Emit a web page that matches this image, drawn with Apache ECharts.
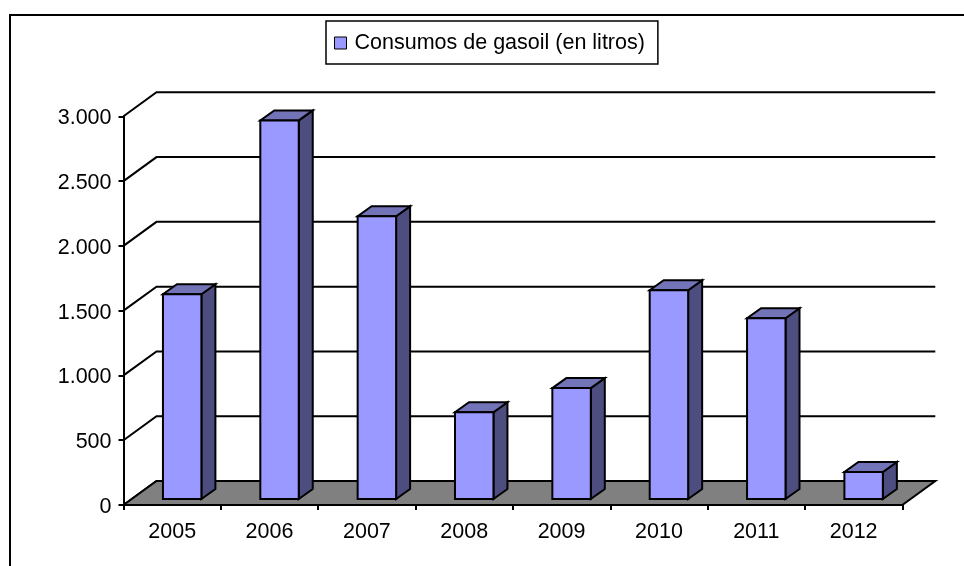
<!DOCTYPE html>
<html>
<head>
<meta charset="utf-8">
<style>
  html, body { margin: 0; padding: 0; background: #fff; }
  #chart { width: 964px; height: 566px; }
</style>
<script src="https://cdn.jsdelivr.net/npm/echarts@6/dist/echarts.min.js"></script>
</head>
<body>
<div id="chart"></div>
<script>
const seriesName = "Consumos de gasoil (en litros)";
const categories = ["2005", "2006", "2007", "2008", "2009", "2010", "2011", "2012"];
const gasoilValues = [1580, 2922, 2182, 670, 856, 1611, 1395, 208];
const yTicks = [0, 500, 1000, 1500, 2000, 2500, 3000];
const yTickLabels = ["0", "500", "1.000", "1.500", "2.000", "2.500", "3.000"];

const font = "Liberation Sans";
const fontSize = 21.5;
// profundidad de las paredes y de las barras, en px
const wallDx = 33;
const wallDy = 24;
const barDx = 10;
const barDy = 6;
const barDepthX = 14;
const barDepthY = 10;
const barRatio = 0.395;

const chart = echarts.init(document.getElementById("chart"));

function poly(points, fill, lineWidth) {
  return {
    type: "polygon",
    shape: { points: points },
    style: { fill: fill, stroke: "#000", lineWidth: lineWidth, lineJoin: "miter" },
  };
}

function renderFloor(params, api) {
  const c = params.coordSys;
  const y0 = api.coord([0, 0])[1];
  return poly(
    [
      [c.x, y0],
      [c.x + c.width, y0],
      [c.x + c.width + wallDx, y0 - wallDy],
      [c.x + wallDx, y0 - wallDy],
    ],
    "#808080",
    2
  );
}

function renderGridLine(params, api) {
  const c = params.coordSys;
  const y = api.coord([0, api.value(1)])[1];
  return {
    type: "polyline",
    shape: {
      points: [
        [c.x, y],
        [c.x + wallDx, y - wallDy],
        [c.x + c.width + wallDx, y - wallDy],
      ],
    },
    style: { fill: "none", stroke: "#000", lineWidth: 2 },
  };
}

function renderBar(params, api) {
  const base = api.coord([api.value(0), 0]);
  const top = api.coord([api.value(0), api.value(1)]);
  const w = api.size([1, 0])[0] * barRatio;
  const x1 = base[0] + barDx - w / 2;
  const x2 = x1 + w;
  const yb = base[1] - barDy;
  const yt = top[1] - barDy;
  return {
    type: "group",
    children: [
      poly([[x2, yb], [x2 + barDepthX, yb - barDepthY], [x2 + barDepthX, yt - barDepthY], [x2, yt]], "#4d4d80", 2),
      poly([[x1, yt], [x2, yt], [x2 + barDepthX, yt - barDepthY], [x1 + barDepthX, yt - barDepthY]], "#7373b8", 2),
      poly([[x1, yb], [x2, yb], [x2, yt], [x1, yt]], "#9999ff", 2),
    ],
  };
}

chart.setOption({
  animation: false,
  backgroundColor: "#fff",
  textStyle: { fontFamily: font },
  graphic: [
    {
      type: "rect",
      z: -1,
      shape: { x: 10, y: 15, width: 1200, height: 900 },
      style: { fill: "none", stroke: "#000", lineWidth: 2 },
    },
  ],
  legend: {
    data: [seriesName],
    left: 326,
    top: 21,
    padding: [11, 13, 10, 8],
    backgroundColor: "#fff",
    borderColor: "#000",
    borderWidth: 1.5,
    borderRadius: 0,
    icon: "rect",
    itemWidth: 12,
    itemHeight: 12,
    itemGap: 0,
    itemStyle: { color: "#9999ff", borderColor: "#000", borderWidth: 1 },
    textStyle: { fontFamily: font, fontSize: fontSize, color: "#000", padding: [0, 0, 0, 3] },
  },
  grid: { left: 123.5, right: 61.7, top: 116.3, height: 388.7 },
  xAxis: {
    type: "category",
    data: categories,
    z: 10,
    axisLine: { lineStyle: { color: "#000", width: 2 } },
    axisTick: { show: true, length: 5, lineStyle: { color: "#000", width: 2 } },
    axisLabel: { color: "#000", fontFamily: font, fontSize: fontSize, margin: 16 },
  },
  yAxis: {
    type: "value",
    min: 0,
    max: 3000,
    interval: 500,
    z: 10,
    splitLine: { show: false },
    axisLine: { show: true, lineStyle: { color: "#000", width: 2 } },
    axisTick: { show: true, length: 5, lineStyle: { color: "#000", width: 2 } },
    axisLabel: {
      margin: 12,
      formatter: (v) => "{t|" + yTickLabels[yTicks.indexOf(v)] + "}",
      rich: {
        t: { color: "#000", fontFamily: font, fontSize: fontSize, padding: [4, 0, 0, 0] },
      },
    },
  },
  series: [
    {
      name: "suelo",
      type: "custom",
      z: 2,
      silent: true,
      clip: false,
      data: [[0, 0]],
      renderItem: renderFloor,
    },
    {
      name: "rejilla",
      type: "custom",
      z: 1,
      silent: true,
      clip: false,
      data: yTicks.map((v) => [0, v]),
      renderItem: renderGridLine,
    },
    {
      name: seriesName,
      type: "custom",
      z: 3,
      clip: false,
      itemStyle: { color: "#9999ff" },
      data: gasoilValues.map((v, i) => [i, v]),
      renderItem: renderBar,
    },
  ],
});
</script>
</body>
</html>
